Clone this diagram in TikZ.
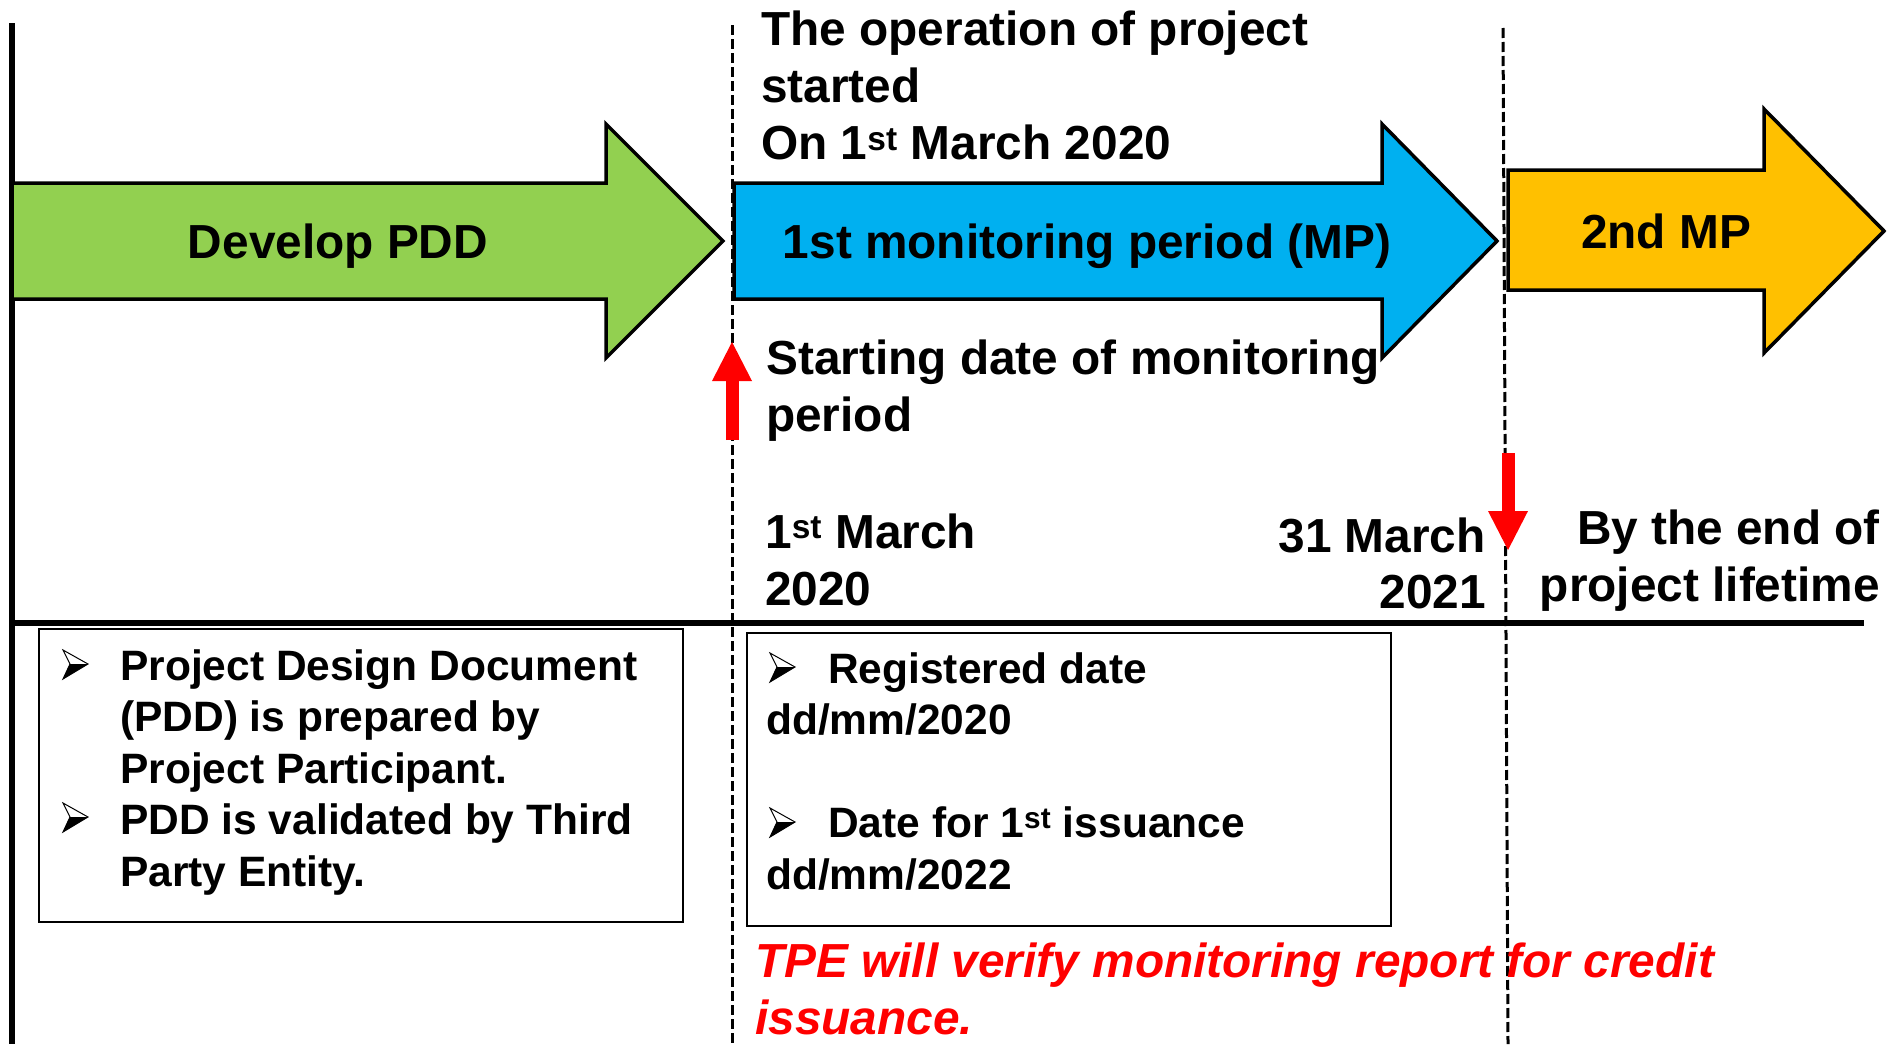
\documentclass[tikz,border=0pt]{standalone}
\usepackage{fontspec}
\setmainfont{Liberation Sans}
\usetikzlibrary{arrows.meta}

\definecolor{pddgreen}{HTML}{92D050}
\definecolor{mpblue}{HTML}{00B0F0}
\definecolor{mpgold}{HTML}{FFC000}
\definecolor{alertred}{HTML}{FF0000}

% type sizes (1pt = 1 picture unit)
\newcommand{\bigtxt}{\fontsize{47.8}{57.5}\selectfont\bfseries}
\newcommand{\boxtxt}{\fontsize{42.5}{51.5}\selectfont\bfseries}

\begin{document}
\begin{tikzpicture}[x=1pt,y=-1pt,
  phase/.style={draw=black,line width=3.5pt,line join=miter},
  phaselabel/.style={inner sep=0pt,anchor=base,font=\bigtxt},
  caption/.style={inner sep=0pt,font=\bigtxt},
  notetext/.style={inner sep=0pt,anchor=base west,font=\boxtxt},
  notebox/.style={draw=black,line width=2pt},
  axisline/.style={draw=black,line width=6pt},
  milestone/.style={draw=black,line width=3pt,dash pattern=on 10pt off 4pt},
  pointer/.style={draw=alertred,line width=13pt,
    -{Triangle[width=40pt,length=39pt,line width=0pt]}},
  remark/.style={inner sep=0pt,anchor=base west,text=alertred,font=\bigtxt\itshape},
  notebullet/.pic={
    \fill[black] (8,-16) -- (26,-16) -- (1,-1) -- cycle;
    \draw[black,line width=1pt,line join=miter] (1,-30) -- (26,-16) -- (1,-1) -- (8,-16) -- cycle;
  }
]
\useasboundingbox (0,0) rectangle (1889,1044);

% time axis
\coordinate (axTop) at (12,23);
\coordinate (axBot) at (12,1044);
\coordinate (axEnd) at (1864,623);
\coordinate (axStart) at (12,623);
\draw[axisline] (axTop) -- (axBot);
\draw[axisline] (axStart) -- (axEnd);

% milestone markers
\coordinate (msAtop) at (732,25);
\coordinate (msAbot) at (732,1044);
\coordinate (msBtop) at (1503,28);
\coordinate (msBbot) at (1508,1044);
\draw[milestone] (msAtop) -- (msAbot);
\draw[milestone] (msBtop) -- (msBbot);

% phase arrows
\filldraw[phase,fill=pddgreen] (12,183) -- (606,183) -- (606,124) -- (723,241)
  -- (606,358) -- (606,299) -- (12,299) -- cycle;
\filldraw[phase,fill=mpblue] (734,183) -- (1382,183) -- (1382,124) -- (1497,241)
  -- (1382,358) -- (1382,299) -- (734,299) -- cycle;
\filldraw[phase,fill=mpgold] (1508,170) -- (1764,170) -- (1764,109) -- (1884,231)
  -- (1764,353) -- (1764,290) -- (1508,290) -- cycle;

\node[phaselabel] (develop) at (338,258) {Develop PDD};
\node[phaselabel] (firstmp) at (1087,258) {1st monitoring period (MP)};
\node[phaselabel] (secondmp) at (1666,248) {2nd MP};

% captions
\node[caption,anchor=base west] (operation) at (761,45)
  {\begin{tabular}[t]{@{}l@{}}The operation of project\\ started\\
   On 1\textsuperscript{st} March 2020\end{tabular}};
\node[caption,anchor=base west] (startdate) at (766,374)
  {\begin{tabular}[t]{@{}l@{}}Starting date of monitoring\\ period\end{tabular}};
\node[caption,anchor=base west] (datefrom) at (765,548)
  {\begin{tabular}[t]{@{}l@{}}1\textsuperscript{st} March\\ 2020\end{tabular}};
\node[caption,anchor=base east] (dateto) at (1486,552)
  {\fontsize{47.8}{56}\selectfont\begin{tabular}[t]{@{}r@{}}31 March\\ 2021\end{tabular}};
\node[caption,anchor=base east] (lifetime) at (1880,544)
  {\begin{tabular}[t]{@{}r@{}}By the end of\\ project lifetime\end{tabular}};

% red pointers
\coordinate (upFrom) at (732,440);
\coordinate (upTo) at (732,342);
\coordinate (downFrom) at (1508,453);
\coordinate (downTo) at (1508,550);
\draw[pointer] (upFrom) -- (upTo);
\draw[pointer] (downFrom) -- (downTo);

% note boxes
\draw[notebox] (39,629) rectangle (683,922);
\draw[notebox] (747,633) rectangle (1391,926);

\node[notetext] (pddnotes) at (120,680)
  {\begin{tabular}[t]{@{}l@{}}
   Project Design Document\\
   (PDD) is prepared by\\
   Project Participant.\\
   PDD is validated by Third\\
   Party Entity.
   \end{tabular}};
\pic at (62,680) {notebullet};
\pic at (62,833) {notebullet};

\node[notetext] (mpnotes) at (766,683)
  {\begin{tabular}[t]{@{}l@{}}
   \hspace{62pt}Registered date\\
   dd/mm/2020\\
   \mbox{}\\
   \hspace{62pt}Date for 1\textsuperscript{st} issuance\\
   dd/mm/2022
   \end{tabular}};
\pic at (769,683) {notebullet};
\pic at (769,838) {notebullet};

\node[remark] (verify) at (755,977)
  {\begin{tabular}[t]{@{}l@{}}TPE will verify monitoring report for credit\\ issuance.\end{tabular}};
\end{tikzpicture}
\end{document}
